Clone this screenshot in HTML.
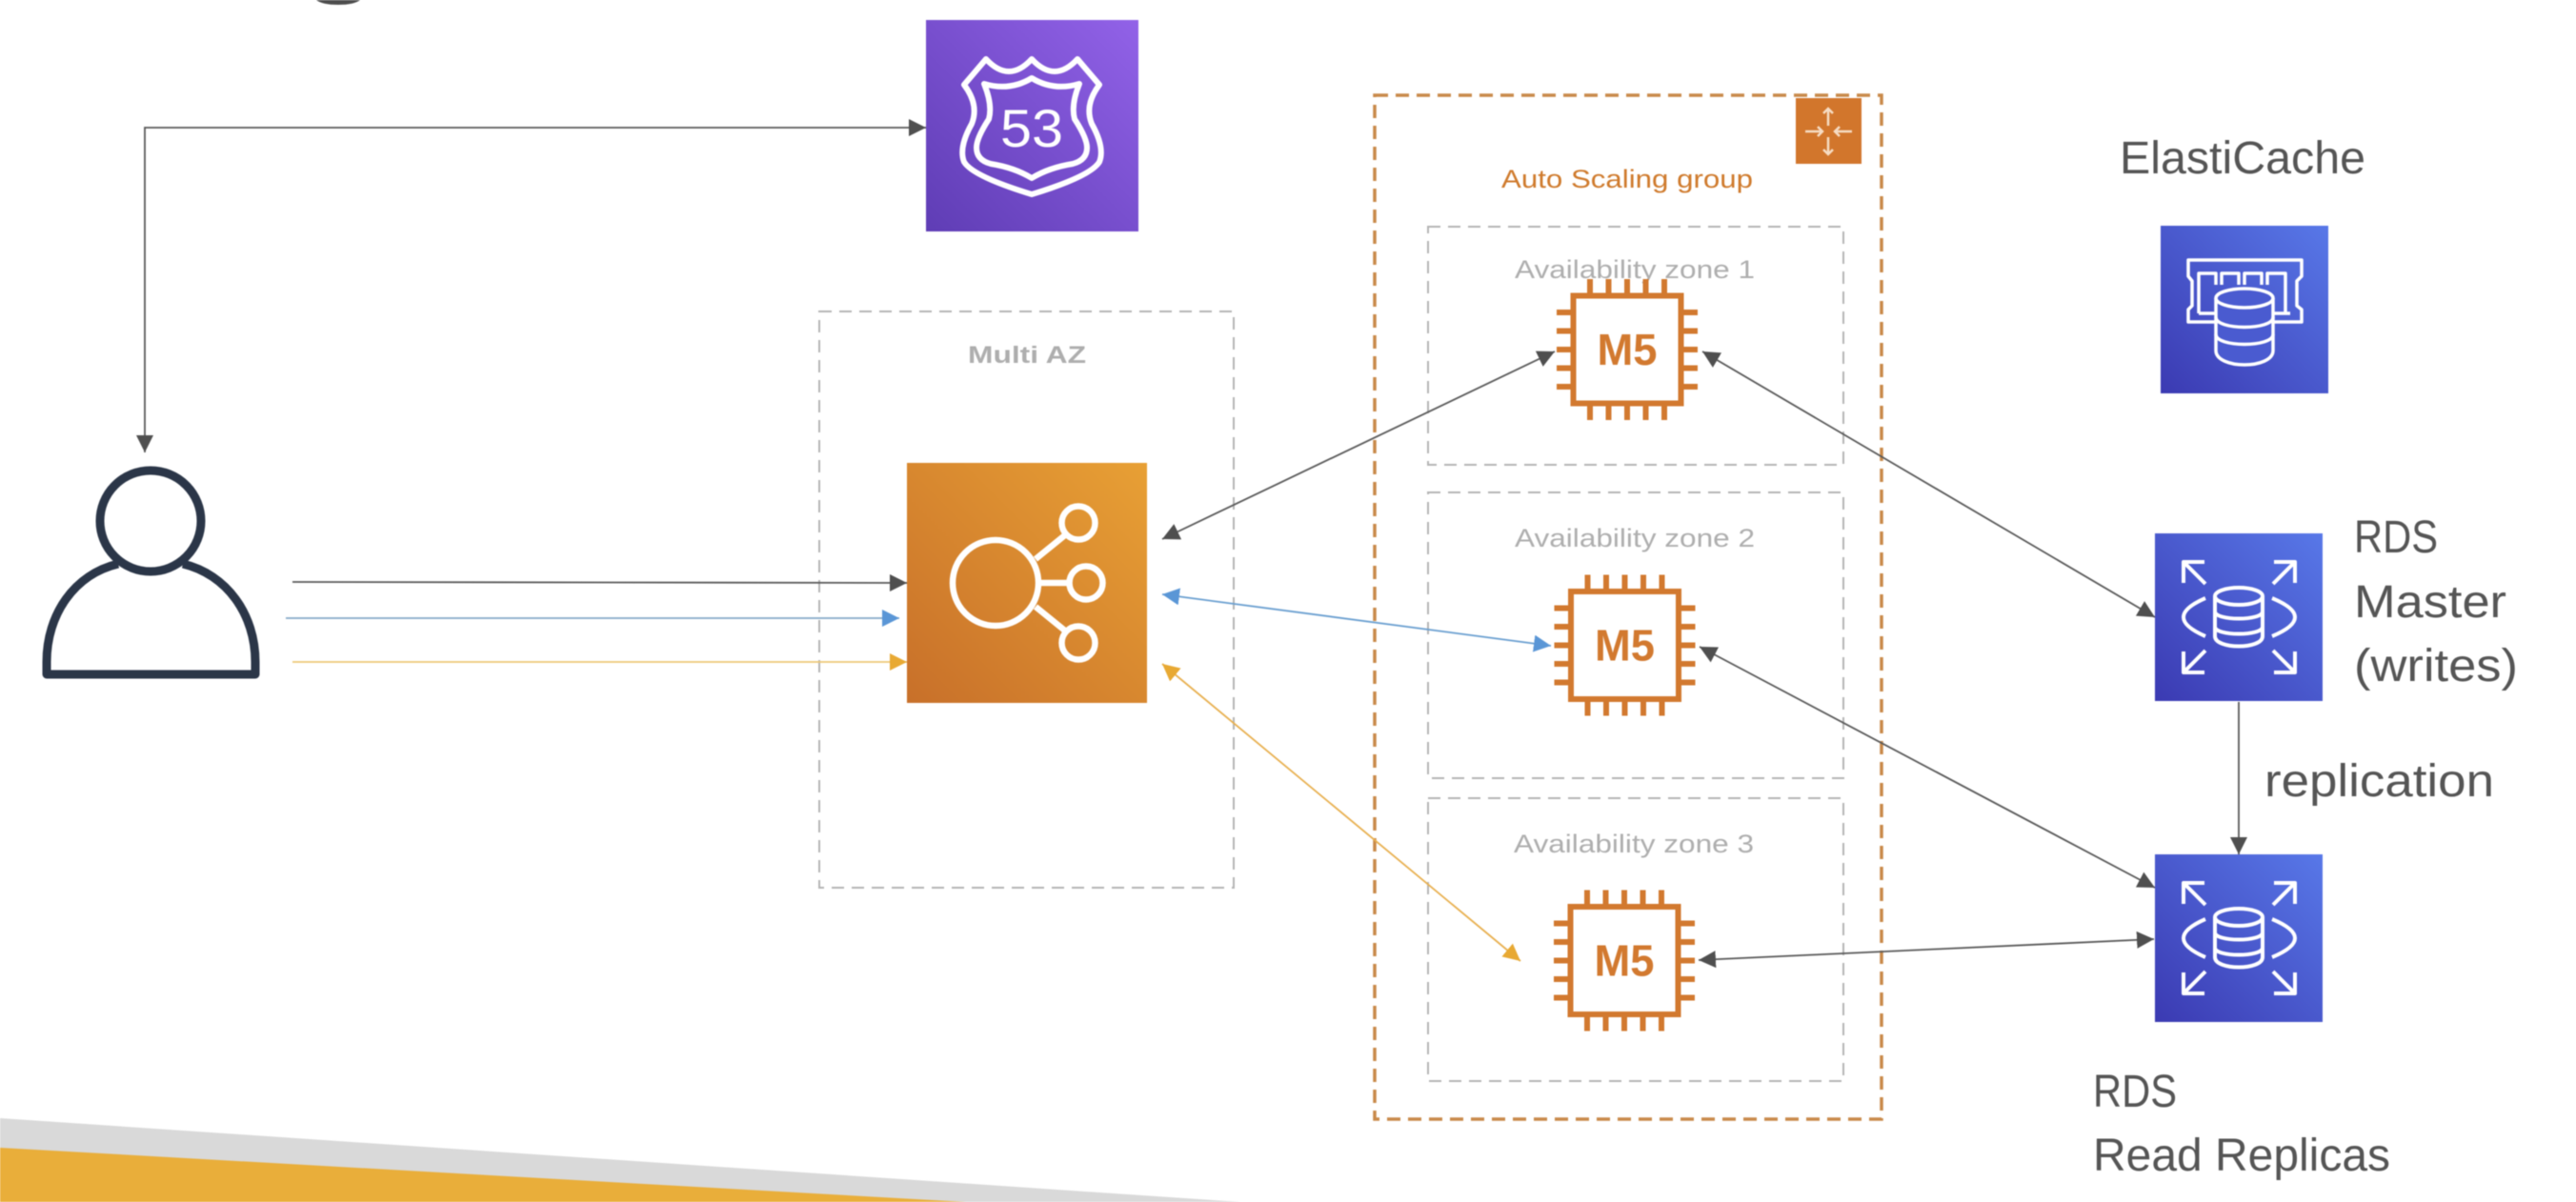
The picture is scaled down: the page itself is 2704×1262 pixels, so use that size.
<!DOCTYPE html>
<html><head><meta charset="utf-8"><style>
html,body{margin:0;padding:0;background:#fff;width:2704px;height:1262px;overflow:hidden}
svg{display:block;filter:blur(.6px)}
text{font-family:"Liberation Sans",sans-serif}
</style></head><body>
<svg xmlns="http://www.w3.org/2000/svg" width="2704" height="1262" viewBox="0 0 2704 1262">
<defs>
<linearGradient id="p" x1="0" y1="1" x2="1" y2="0"><stop offset="0" stop-color="#5f3db5"/><stop offset="1" stop-color="#9262e8"/></linearGradient>
<linearGradient id="o" x1="0" y1="1" x2="1" y2="0"><stop offset="0" stop-color="#c8702a"/><stop offset="1" stop-color="#e8a035"/></linearGradient>
<linearGradient id="b" x1="0" y1="1" x2="1" y2="0"><stop offset="0" stop-color="#3b3ab2"/><stop offset="1" stop-color="#5878e8"/></linearGradient>
<marker id="k" markerUnits="userSpaceOnUse" markerWidth="20" markerHeight="20" refX="18" refY="9" orient="auto-start-reverse"><path d="M0 0L18 9L0 18Z" fill="#4f4f4f"/></marker>
<marker id="u" markerUnits="userSpaceOnUse" markerWidth="20" markerHeight="20" refX="18" refY="9" orient="auto-start-reverse"><path d="M0 0L18 9L0 18Z" fill="#5a96d6"/></marker>
<marker id="y" markerUnits="userSpaceOnUse" markerWidth="20" markerHeight="20" refX="18" refY="9" orient="auto-start-reverse"><path d="M0 0L18 9L0 18Z" fill="#e8a933"/></marker>
</defs>

<!-- bottom band -->
<polygon points="0,1174 1302,1262 0,1262" fill="#d9d9d9"/>
<polygon points="0,1205 1014,1262 0,1262" fill="#e9ae3a"/>

<!-- title fragment -->
<path d="M332 0H378Q372 5 355 5Q338 5 332 0Z" fill="#4d4d4d"/>

<!-- containers -->
<g fill="none" stroke="#b4b4b4" stroke-width="2" stroke-dasharray="13 8">
<rect x="860" y="327" width="435" height="605"/>
<rect x="1499" y="238" width="436" height="250"/>
<rect x="1499" y="517" width="436" height="300"/>
<rect x="1499" y="838" width="436" height="297"/>
</g>
<rect x="1443" y="100" width="532" height="1075" fill="none" stroke="#c98a4a" stroke-width="3.5" stroke-dasharray="14 8"/>

<text x="1078" y="381" text-anchor="middle" font-size="25" font-weight="bold" fill="#aeaeae" textLength="124" lengthAdjust="spacingAndGlyphs">Multi AZ</text>
<text x="1708" y="197" text-anchor="middle" font-size="27" fill="#cf7a2c" textLength="264" lengthAdjust="spacingAndGlyphs">Auto Scaling group</text>
<text x="1716" y="292" text-anchor="middle" font-size="27" fill="#aeaeae" textLength="252" lengthAdjust="spacingAndGlyphs">Availability zone 1</text>
<text x="1716" y="574" text-anchor="middle" font-size="27" fill="#aeaeae" textLength="252" lengthAdjust="spacingAndGlyphs">Availability zone 2</text>
<text x="1715" y="895" text-anchor="middle" font-size="27" fill="#aeaeae" textLength="252" lengthAdjust="spacingAndGlyphs">Availability zone 3</text>

<!-- Auto scaling icon -->
<rect x="1885" y="103" width="69" height="69" fill="#d2762c"/>
<g fill="none" stroke="#f6dcc3" stroke-width="2.5">
<path d="M1919 132V114M1914 119L1919 114L1924 119"/>
<path d="M1919 144V162M1914 157L1919 162L1924 157"/>
<path d="M1895 138H1913M1908 133L1913 138L1908 143"/>
<path d="M1944 138H1926M1931 133L1926 138L1931 143"/>
</g>

<!-- Route 53 -->
<rect x="972" y="21" width="223" height="222" fill="url(#p)"/>
<g fill="none" stroke="#fff" stroke-width="6" stroke-linejoin="round">
<path d="M1035 62Q1059 88 1083 62Q1107 88 1131 62L1154 89Q1138 110 1146 130Q1160 155 1154 170Q1145 185 1083 204Q1021 185 1012 170Q1006 155 1020 130Q1028 110 1012 89Z"/>
<path d="M1083 82Q1060 96 1033 88Q1042 110 1038 125Q1025 145 1025 155Q1025 168 1040 172Q1065 176 1083 187Q1101 176 1126 172Q1141 168 1141 155Q1141 145 1128 125Q1124 110 1133 88Q1106 96 1083 82Z"/>
</g>
<text x="1083" y="154" text-anchor="middle" font-size="56" fill="#fff" textLength="66" lengthAdjust="spacingAndGlyphs">53</text>

<!-- user -->
<g fill="none" stroke="#2b3648" stroke-width="9" stroke-linejoin="round">
<circle cx="158" cy="547" r="53"/>
<path d="M124 592C78 603 49 645 49 695V708H268V695C268 645 238 603 192 592"/>
</g>

<!-- ELB -->
<rect x="952" y="486" width="252" height="252" fill="url(#o)"/>
<g fill="none" stroke="#fff" stroke-width="6.5">
<circle cx="1045" cy="612" r="45"/>
<circle cx="1132" cy="549" r="17.5"/>
<circle cx="1140" cy="612" r="17.5"/>
<circle cx="1132" cy="675" r="17.5"/>
<path d="M1087 587L1119 561M1093 612H1122M1087 637L1119 663"/>
</g>

<!-- connectors -->
<g fill="none" stroke-width="1.8">
<path d="M152 475V134H972" stroke="#5a5a5a" marker-start="url(#k)" marker-end="url(#k)"/>
<path d="M307 611L952 612" stroke="#5a5a5a" marker-end="url(#k)"/>
<path d="M300 649H944" stroke="#86aac8" marker-end="url(#u)"/>
<path d="M307 695H952" stroke="#ecc777" marker-end="url(#y)"/>
<path d="M1220 566L1632 369" stroke="#5a5a5a" marker-start="url(#k)" marker-end="url(#k)"/>
<path d="M1787 369L2262 648" stroke="#5a5a5a" marker-start="url(#k)" marker-end="url(#k)"/>
<path d="M1220 624L1628 678" stroke="#6a9fd0" marker-start="url(#u)" marker-end="url(#u)"/>
<path d="M1784 679L2262 932" stroke="#5a5a5a" marker-start="url(#k)" marker-end="url(#k)"/>
<path d="M1220 697L1596 1009" stroke="#e8b050" marker-start="url(#y)" marker-end="url(#y)"/>
<path d="M1783 1008L2261 986" stroke="#5a5a5a" marker-start="url(#k)" marker-end="url(#k)"/>
<path d="M2350 737V897" stroke="#5a5a5a" marker-end="url(#k)"/>
</g>

<!-- M5 chips -->
<g transform="translate(1708,367)">
<rect x="-56.5" y="-56.5" width="113" height="113" fill="#fff" stroke="#d2792f" stroke-width="6"/>
<path d="M-39-59V-74M-19.5-59V-74M0-59V-74M19.5-59V-74M39-59V-74M-39 59V74M-19.5 59V74M0 59V74M19.5 59V74M39 59V74M-59-39H-74M-59-19.5H-74M-59 0H-74M-59 19.5H-74M-59 39H-74M59-39H74M59-19.5H74M59 0H74M59 19.5H74M59 39H74" stroke="#d2792f" stroke-width="6" fill="none"/>
<text x="0" y="16" text-anchor="middle" font-size="46" font-weight="bold" fill="#d2792f" textLength="63" lengthAdjust="spacingAndGlyphs">M5</text>
</g>
<g transform="translate(1705.5,677.5)">
<rect x="-56.5" y="-56.5" width="113" height="113" fill="#fff" stroke="#d2792f" stroke-width="6"/>
<path d="M-39-59V-74M-19.5-59V-74M0-59V-74M19.5-59V-74M39-59V-74M-39 59V74M-19.5 59V74M0 59V74M19.5 59V74M39 59V74M-59-39H-74M-59-19.5H-74M-59 0H-74M-59 19.5H-74M-59 39H-74M59-39H74M59-19.5H74M59 0H74M59 19.5H74M59 39H74" stroke="#d2792f" stroke-width="6" fill="none"/>
<text x="0" y="16" text-anchor="middle" font-size="46" font-weight="bold" fill="#d2792f" textLength="63" lengthAdjust="spacingAndGlyphs">M5</text>
</g>
<g transform="translate(1705,1008.5)">
<rect x="-56.5" y="-56.5" width="113" height="113" fill="#fff" stroke="#d2792f" stroke-width="6"/>
<path d="M-39-59V-74M-19.5-59V-74M0-59V-74M19.5-59V-74M39-59V-74M-39 59V74M-19.5 59V74M0 59V74M19.5 59V74M39 59V74M-59-39H-74M-59-19.5H-74M-59 0H-74M-59 19.5H-74M-59 39H-74M59-39H74M59-19.5H74M59 0H74M59 19.5H74M59 39H74" stroke="#d2792f" stroke-width="6" fill="none"/>
<text x="0" y="16" text-anchor="middle" font-size="46" font-weight="bold" fill="#d2792f" textLength="63" lengthAdjust="spacingAndGlyphs">M5</text>
</g>

<!-- ElastiCache icon -->
<g transform="translate(2268,237)">
<rect width="176" height="176" fill="url(#b)"/>
<g fill="none" stroke="#fff" stroke-width="3.5" stroke-linejoin="round">
<path d="M60 101H29V88L33 84V58L29 53V36H148V53L143 58V84L148 88V101H118"/>
<path d="M40 92V50H58V62M64 62V50H82V62M88 62V50H106V62M112 62V50H131V92"/>
<path d="M40 92H58M118 92H136"/>
<path d="M58 76V131C58 151 118 151 118 131V76" fill="#4a5bd0"/>
<ellipse cx="88" cy="76" rx="30" ry="10" fill="#4a5bd0"/>
<path d="M58 96C58 110 118 110 118 96M58 114C58 128 118 128 118 114"/>
</g>
</g>

<!-- RDS Master -->
<g transform="translate(2262,560)">
<rect width="176" height="176" fill="url(#b)"/>
<g fill="none" stroke="#fff" stroke-width="4" stroke-linejoin="round">
<path d="M30 52V30H52M30 30L53 53M125 30H147V52M147 30L124 53M30 124V146H52M30 146L53 123M125 146H147V124M147 146L124 123"/>
<path d="M53 68Q30 78 30 88Q30 98 53 108M123 68Q147 78 147 88Q147 98 123 108"/>
<ellipse cx="88" cy="66" rx="25" ry="9"/>
<path d="M63 66V108C63 122 113 122 113 108V66M63 82C63 92 113 92 113 82M63 98C63 108 113 108 113 98"/>
</g>
</g>
<!-- RDS Replica -->
<g transform="translate(2262,897)">
<rect width="176" height="176" fill="url(#b)"/>
<g fill="none" stroke="#fff" stroke-width="4" stroke-linejoin="round">
<path d="M30 52V30H52M30 30L53 53M125 30H147V52M147 30L124 53M30 124V146H52M30 146L53 123M125 146H147V124M147 146L124 123"/>
<path d="M53 68Q30 78 30 88Q30 98 53 108M123 68Q147 78 147 88Q147 98 123 108"/>
<ellipse cx="88" cy="66" rx="25" ry="9"/>
<path d="M63 66V108C63 122 113 122 113 108V66M63 82C63 92 113 92 113 82M63 98C63 108 113 108 113 98"/>
</g>
</g>

<!-- labels -->
<g font-size="48" fill="#555">
<text x="2225" y="182" textLength="258" lengthAdjust="spacingAndGlyphs">ElastiCache</text>
<text x="2471" y="580" textLength="88" lengthAdjust="spacingAndGlyphs">RDS</text>
<text x="2471" y="648" textLength="160" lengthAdjust="spacingAndGlyphs">Master</text>
<text x="2471" y="715" textLength="172" lengthAdjust="spacingAndGlyphs">(writes)</text>
<text x="2377" y="836" textLength="241" lengthAdjust="spacingAndGlyphs">replication</text>
<text x="2197" y="1162" textLength="88" lengthAdjust="spacingAndGlyphs">RDS</text>
<text x="2197" y="1229" textLength="312" lengthAdjust="spacingAndGlyphs">Read Replicas</text>
</g>
</svg>
</body></html>
